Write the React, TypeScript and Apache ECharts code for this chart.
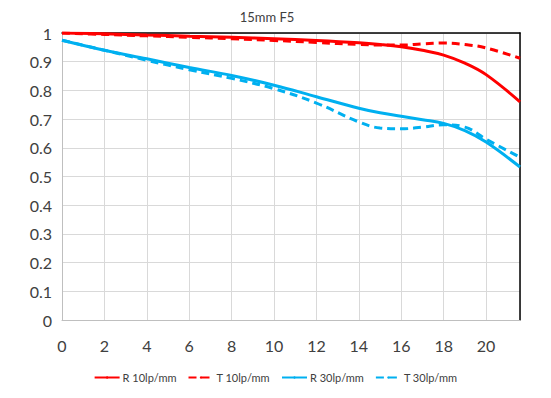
import React, { useEffect, useRef } from "react";
import * as echarts from "echarts";

const title = "15mm F5";
const xPos = [0, 2, 4, 6, 8, 10, 12, 14, 15, 16, 17, 18, 19, 20, 21.6];
const r10 = [1.0, 0.997, 0.993, 0.989, 0.985, 0.98, 0.974, 0.966, 0.96, 0.952, 0.94, 0.923, 0.895, 0.855, 0.76];
const t10 = [1.0, 0.995, 0.99, 0.985, 0.98, 0.974, 0.967, 0.96, 0.958, 0.958, 0.962, 0.965, 0.96, 0.948, 0.912];
const r30 = [0.975, 0.94, 0.91, 0.88, 0.852, 0.818, 0.778, 0.738, 0.722, 0.71, 0.698, 0.685, 0.66, 0.62, 0.533];
const t30 = [0.975, 0.94, 0.905, 0.872, 0.842, 0.806, 0.756, 0.69, 0.669, 0.666, 0.672, 0.68, 0.672, 0.63, 0.567];
const seriesNames = ["R 10lp/mm", "T 10lp/mm", "R 30lp/mm", "T 30lp/mm"];

const RED = "#FF0000";
const BLUE = "#00B0F0";
const FONT = "Lato, 'Open Sans', sans-serif";

function pairs(ys: number[]) {
  return xPos.map((x, i) => [x, ys[i]]);
}

export default function App() {
  const ref = useRef<HTMLDivElement>(null);
  useEffect(() => {
    if (!ref.current) return;
    const chart = echarts.init(ref.current, null, { renderer: "svg" });
    const mk = (name: string, data: number[], color: string, dashed: boolean) => ({
      name,
      type: "line",
      data: pairs(data),
      smooth: 0.4,
      symbol: "none",
      showSymbol: false,
      lineStyle: { color, width: 3, type: dashed ? [8, 5] : "solid" },
      itemStyle: { color },
      xAxisIndex: 0,
      yAxisIndex: 0,
      z: 3,
    });
    chart.setOption({
      animation: false,
      backgroundColor: "#fff",
      title: {
        text: title,
        left: 262,
        top: 5,
        textAlign: "center",
        textStyle: { fontFamily: FONT, fontSize: 13, fontWeight: "normal", color: "#404040" },
      },
      legend: {
        bottom: 10,
        left: "center",
        itemWidth: 25,
        itemHeight: 3,
        itemGap: 11,
        data: seriesNames,
        textStyle: { fontFamily: FONT, fontSize: 11, color: "#404040", padding: [0, 0, 0, -2] },
      },
      grid: { left: 62, right: 31, top: 33, bottom: 78, containLabel: false },
      xAxis: [
        {
          type: "value",
          min: 0,
          max: 21.6,
          interval: 2,
          axisLine: { show: true, onZero: false, lineStyle: { color: "#BFBFBF", width: 1 } },
          axisTick: { show: false },
          splitLine: { show: true, lineStyle: { color: "#D9D9D9", width: 1 } },
          axisLabel: {
            showMaxLabel: false,
            margin: 17,
            fontFamily: FONT,
            fontSize: 16,
            color: "#404040",
          },
        },
        {
          type: "value",
          position: "top",
          min: 0,
          max: 21.6,
          interval: 2,
          axisLine: { show: true, onZero: false, lineStyle: { color: "#000", width: 1.5 } },
          axisTick: { show: false },
          splitLine: { show: false },
          axisLabel: { show: false },
        },
      ],
      yAxis: [
        {
          type: "value",
          min: 0,
          max: 1,
          interval: 0.1,
          axisLine: { show: true, onZero: false, lineStyle: { color: "#BFBFBF", width: 1 } },
          axisTick: { show: false },
          splitLine: { show: true, lineStyle: { color: "#D9D9D9", width: 1 } },
          axisLabel: {
            margin: 10,
            fontFamily: FONT,
            fontSize: 16,
            color: "#404040",
            formatter: (v: number) => String(Math.round(v * 10) / 10),
          },
        },
        {
          type: "value",
          position: "right",
          min: 0,
          max: 1,
          interval: 0.1,
          axisLine: { show: true, onZero: false, lineStyle: { color: "#000", width: 1.5 } },
          axisTick: { show: false },
          splitLine: { show: false },
          axisLabel: { show: false },
        },
      ],
      series: [
        mk(seriesNames[0], r10, RED, false),
        mk(seriesNames[1], t10, RED, true),
        mk(seriesNames[2], r30, BLUE, false),
        mk(seriesNames[3], t30, BLUE, true),
      ],
    });
    return () => chart.dispose();
  }, []);
  return <div ref={ref} style={{ width: 551, height: 398, position: "absolute", left: 0, top: 0 }} />;
}
